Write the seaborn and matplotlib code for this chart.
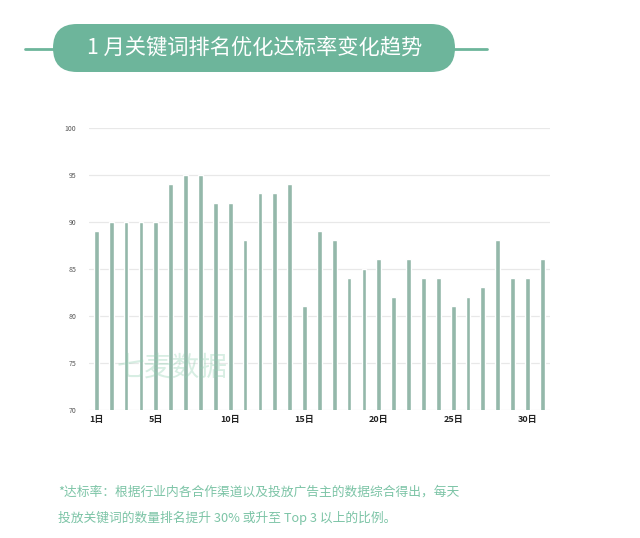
import numpy as np
import pandas as pd
import matplotlib
matplotlib.use("Agg")
import matplotlib.pyplot as plt
from matplotlib.patches import FancyBboxPatch
from matplotlib.lines import Line2D
import seaborn as sns

days = [f"{d}日" for d in range(1, 32)]
rates = [89, 90, 90, 90, 90, 94, 95, 95, 92, 92, 88, 93, 93, 94, 81,
         89, 88, 84, 85, 86, 82, 86, 84, 84, 81, 82, 83, 88, 84, 84, 86]
shown_ticks = [1, 5, 10, 15, 20, 25, 30]
y_ticks = [70, 75, 80, 85, 90, 95, 100]

title = "1 月关键词排名优化达标率变化趋势"
note1 = "*达标率：根据行业内各合作渠道以及投放广告主的数据综合得出，每天"
note2 = "投放关键词的数量排名提升 30% 或升至 Top 3 以上的比例。"

sns.set_style("white")
plt.rcParams['font.family'] = ['Noto Sans CJK SC', 'DejaVu Sans']

df = pd.DataFrame({"day": days, "rate": rates})

fig = plt.figure(figsize=(6.4, 5.38), dpi=100)
ax = fig.add_axes([0.139, 0.2388, 0.72, 0.5242])

for y in y_ticks:
    ax.axhline(y, color="#e8e8e8", lw=0.9, zorder=0)

sns.barplot(data=df, x="day", y="rate", color="#94b8aa", width=0.32,
            saturation=1, ax=ax, zorder=2)

ax.set_ylim(70, 100)
ax.set_xlim(-0.5, 30.5)
ax.set_yticks(y_ticks)
ax.set_yticklabels([str(v) for v in y_ticks], fontsize=5, color="#555555")
ax.set_xticks([d - 1 for d in shown_ticks])
ax.set_xticklabels([f"{d}日" for d in shown_ticks], fontsize=6.5,
                   fontweight="bold", color="#222222")
ax.tick_params(axis="both", length=0)
ax.tick_params(axis="y", pad=9)
ax.tick_params(axis="x", pad=4)
ax.set_xlabel("")
ax.set_ylabel("")
for s in ax.spines.values():
    s.set_visible(False)

# watermark
ax.text(0.06, 0.12, "七麦数据", transform=ax.transAxes, fontsize=20,
        color="#8fcfb0", alpha=0.35, zorder=3)

# title pill, positioned in inches (100 px per inch)
H_IN = 5.38
pill = FancyBboxPatch((0.53, H_IN - 0.72), 4.02, 0.48,
                      boxstyle="round,pad=0,rounding_size=0.24",
                      transform=fig.dpi_scale_trans, facecolor="#6db59b",
                      edgecolor="none")
fig.patches.append(pill)
fig.lines.append(Line2D([0.25, 0.56], [H_IN - 0.485, H_IN - 0.485],
                        transform=fig.dpi_scale_trans, color="#6db59b", lw=2))
fig.lines.append(Line2D([4.52, 4.87], [H_IN - 0.485, H_IN - 0.485],
                        transform=fig.dpi_scale_trans, color="#6db59b", lw=2))
fig.text(2.55 / 6.4, 1 - 0.48 / H_IN, title, ha="center", va="center",
         fontsize=15.3, fontweight="medium", color="white")

fig.text(58 / 640, 1 - 492 / 538, note1, ha="left", va="center",
         fontsize=9.2, color="#7cc4a6")
fig.text(58 / 640, 1 - 518 / 538, note2, ha="left", va="center",
         fontsize=9.2, color="#7cc4a6")

fig.savefig("out.png", dpi=100)
